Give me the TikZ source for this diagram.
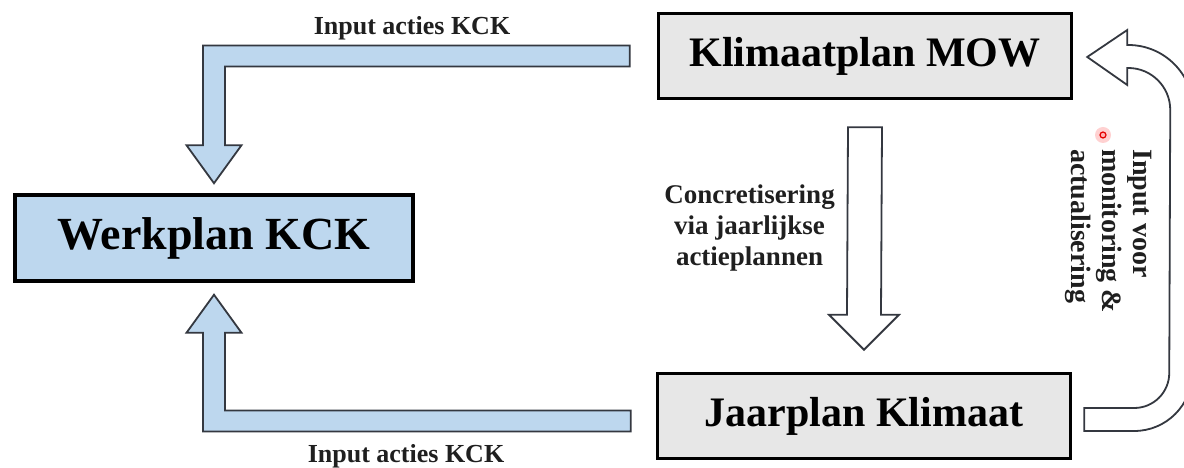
\documentclass[tikz,border=0pt]{standalone}
\usepackage{fontspec}
\setmainfont{Liberation Serif}
\usepackage{tikz}
\usetikzlibrary{calc,positioning,shapes,arrows}
\definecolor{kckblue}{RGB}{189,215,238}
\definecolor{mowgray}{RGB}{231,231,231}
\definecolor{edgegray}{RGB}{52,56,64}
\tikzstyle{block} = [rectangle, draw=black, line width=3.5pt, text centered,
font=\bfseries\fontsize{42}{48}\selectfont]
\tikzstyle{kckblock} = [block, fill=kckblue, minimum width=398pt, minimum height=86pt,
font=\bfseries\fontsize{46}{52}\selectfont]
\tikzstyle{mowblock} = [block, fill=mowgray, minimum width=413pt, minimum height=85pt]
\tikzstyle{fatarrow} = [draw=edgegray, line width=1.8pt, line join=miter]
\tikzstyle{lbl} = [font=\bfseries\fontsize{26}{31}\selectfont, text=black!88]

\begin{document}
\begin{tikzpicture}[x=1pt, y=1pt]
	\useasboundingbox (0,0) rectangle (1184,468);
	% Place nodes
	\node [kckblock] (werk) at (214,230) {Werkplan KCK};
	\node [mowblock] (mow) at (865,412) {Klimaatplan MOW};
	\node [mowblock] (jaar) at (864,52) {Jaarplan Klimaat};
	%
	\coordinate (a1) at ($(mow.west)+(-27,0)$);
	\coordinate (a2) at ($(werk.north)+(0,10)$);
	\coordinate (a3) at ($(jaar.west)+(-25,-5)$);
	\coordinate (a4) at ($(werk.south)+(0,-12)$);
	\coordinate (b1) at ($(mow.south)+(0,-27)$);
	\coordinate (b2) at ($(jaar.north)+(0,22)$);
	\coordinate (c1) at ($(mow.east)+(14,-1)$);
	\coordinate (c2) at ($(jaar.east)+(12,-3.5)$);
	%
	\path [fatarrow, fill=kckblue] ($(a1)+(0,10.5)$) -| ($(a2)+(-11,38)$) -- ++(-16.5,0)
		-- (a2) -- ++(27.5,38) -- ++(-16.5,0) |- ($(a1)+(0,-10.5)$) -- cycle;
	\path [fatarrow, fill=kckblue] ($(a3)+(0,-10.5)$) -| ($(a4)+(-11,-38)$) -- ++(-16.5,0)
		-- (a4) -- ++(27.5,-38) -- ++(-16.5,0) |- ($(a3)+(0,10.5)$) -- cycle;
	\path [fatarrow, fill=white] ($(b1)+(-17,0)$) -- ($(b2)+(-17,35)$) -- ++(-18,0)
		-- (b2) -- ++(35,35) -- ++(-18,0) -- ($(b1)+(17,0)$) -- cycle;
	\path [fatarrow, fill=white] (c1) -- ++(40,27) -- ++(0,-15) -- ++(1,0)
		arc[start angle=90, end angle=0, radius=65] -- ($(c2)+(108,46.5)$)
		arc[start angle=0, end angle=-90, radius=58] -- ++(-50,0) -- ++(0,23) -- ++(50,0)
		arc[start angle=-90, end angle=0, radius=35] -- ($(c1)+(83,-53)$)
		arc[start angle=0, end angle=90, radius=42] -- ++(-1,0) -- ++(0,-17) -- cycle;
	
	\node [lbl, anchor=base] (inTop) at (412,433) {Input acties KCK};
	\node [lbl, anchor=base] (inBottom) at (406,5) {Input acties KCK};
	\node [lbl, align=center, font=\bfseries\fontsize{27}{31}\selectfont] (conc)
		at ($(b1)!0.5!(b2)+(-115,10)$) {Concretisering\\via jaarlijkse\\actieplannen};
	\node [lbl, rotate=-90, align=left, font=\bfseries\fontsize{28}{31}\selectfont] (mon)
		at ($(c1)!0.5!(c2)+(23,7)$) {Input voor\\monitoring \&\\actualisering};
	
	\node [circle, fill=red!18, inner sep=0pt, minimum size=16pt] (glow) at (1103,333) {};
	\node [circle, draw=red!90!black, fill=red!30, line width=1.2pt, inner sep=0pt,
		minimum size=6pt] (dot) at (glow.center) {};
\end{tikzpicture}
\end{document}
